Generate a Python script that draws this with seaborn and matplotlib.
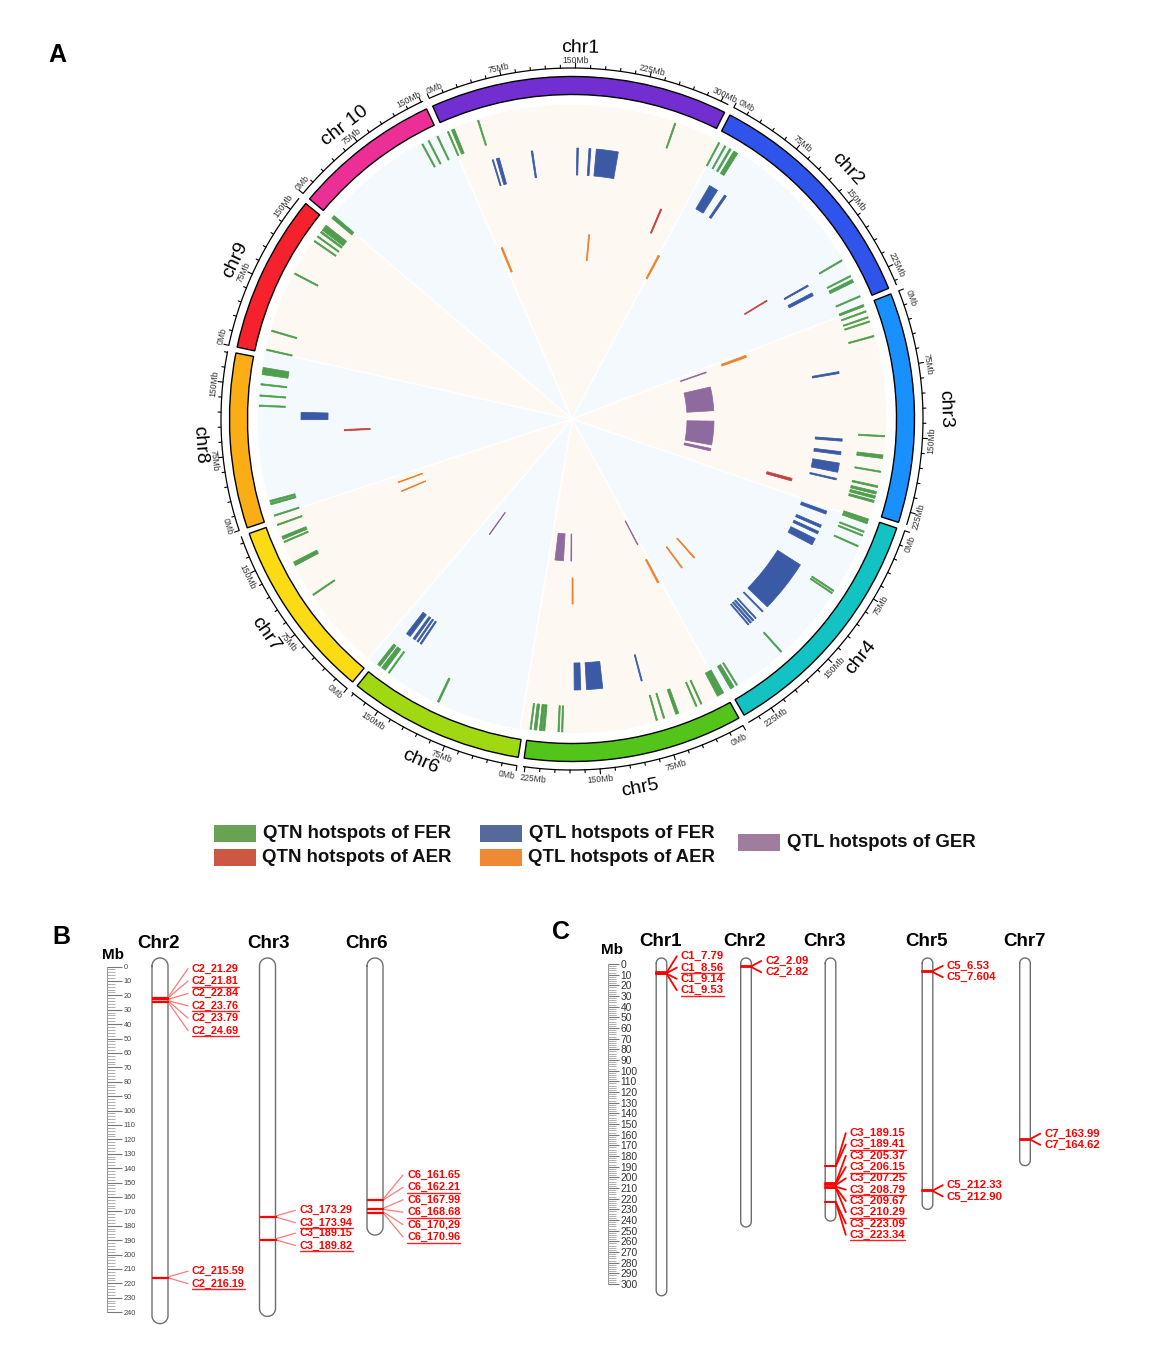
import numpy as np
import pandas as pd
import matplotlib
matplotlib.use("Agg")
import matplotlib.pyplot as plt
from matplotlib.patches import Rectangle
import seaborn as sns

sns.set_theme(style="white")
plt.rcParams['font.family'] = ['Liberation Sans', 'DejaVu Sans']

W, H = 1156, 1365

# circos ring
chr_names = ['chr1', 'chr2', 'chr3', 'chr4', 'chr5', 'chr6', 'chr7', 'chr8', 'chr9', 'chr 10']
chr_len = [308, 245, 238, 252, 227, 182, 187, 181, 164, 152]
chr_colors = ['#722ED1', '#2F54EB', '#1890FF', '#13C2C2', '#52C41A',
              '#A0D911', '#FADB14', '#FAAD14', '#F5222D', '#EB2F96']

# (chromosome, Mb, span in Mb)
qtn_fer = [(1, 4, 1.5), (1, 10, 3.5), (1, 40, 1.5), (1, 264, 1.5),
           (2, 3.6, 1.5), (2, 11.4, 1.5), (2, 18, 2), (2, 25, 5), (2, 196, 1.5), (2, 216, 1.5), (2, 222, 3.5), (2, 241, 1.5),
           (3, 1, 2.5), (3, 8, 1.5), (3, 15, 1.5), (3, 20, 1.5), (3, 37, 1.5), (3, 150, 1.5), (3, 173, 4), (3, 190, 1.5),
           (3, 207, 2), (3, 214, 3), (3, 219, 3), (3, 224, 2.5),
           (4, 2, 3), (4, 5, 2), (4, 15.6, 1.5), (4, 20, 1.5), (4, 33, 1.5), (4, 90, 1.5), (4, 93, 1.5), (4, 180, 1.5),
           (4, 242, 1.5), (4, 248, 4.5),
           (5, 5, 8), (5, 29, 1.5), (5, 35, 1.5), (5, 58, 3.5), (5, 73.6, 1.5), (5, 82, 1.5), (5, 189, 1.5), (5, 193, 1.5),
           (5, 209.7, 2.5), (5, 213, 3), (5, 219, 3), (5, 224.4, 1.5),
           (6, 99.4, 2), (6, 163.5, 1.5), (6, 171, 5), (6, 177.5, 3.5),
           (7, 97.5, 1.5), (7, 138, 4.5), (7, 165, 1.5), (7, 170, 3.5), (7, 185.5, 1.5),
           (8, 3.3, 1.5), (8, 17, 2), (8, 20, 2), (8, 128, 1.5), (8, 139.4, 1.5), (8, 152, 1.5), (8, 165, 4), (8, 169, 4),
           (9, 4, 1.5), (9, 26, 1.5), (9, 95, 1.5), (9, 137.5, 1.5), (9, 143.7, 1.5), (9, 150, 2), (9, 156, 7),
           (10, 1.4, 4), (10, 131, 1.5), (10, 139, 1.5), (10, 150, 1.5)]
qtl_fer = [(1, 42.7, 1.5), (1, 49.5, 4), (1, 94.6, 2), (1, 153.8, 2), (1, 169.7, 2.5), (1, 192.3, 28.6),
           (2, 24.7, 12), (2, 43, 3), (2, 202, 2), (2, 214.6, 4),
           (3, 70.5, 2.5), (3, 158, 3), (3, 175, 4), (3, 194, 12), (3, 209, 2),
           (4, 10, 4), (4, 29, 3.5), (4, 38, 3.5), (4, 51, 9), (4, 120, 69), (4, 163, 1.5),
           (4, 175.5, 1.5), (4, 180, 2), (4, 184, 2), (4, 188, 1.5),
           (5, 87, 1.5), (5, 148.7, 21), (5, 170.9, 8.5),
           (6, 152, 2), (6, 157, 2), (6, 162.5, 3), (6, 171.6, 6),
           (8, 117, 9.5)]
qtn_aer = [(1, 287, 2), (2, 191, 1.5), (3, 225, 4), (8, 96, 2)]
qtl_aer = [(1, 10.4, 3), (1, 179, 2), (2, 3.4, 3), (3, 10, 4), (4, 183.5, 2), (4, 213.4, 2),
           (5, 8.3, 3), (5, 176.8, 2), (7, 166, 1.5), (7, 184, 1.5)]
qtl_ger = [(3, 13.7, 2), (3, 80.7, 59), (3, 165.6, 59), (3, 207, 6),
           (5, 9.5, 1.5), (5, 179.8, 2), (5, 209.6, 21),
           (6, 162, 1.5)]

# hotspot labels of the two ideogram panels, one list per cluster
b_chroms = ['Chr2', 'Chr3', 'Chr6']
b_lengths = [248, 243, 186.5]
b_groups = [[['C2_21.29', 'C2_21.81', 'C2_22.84', 'C2_23.76', 'C2_23.79', 'C2_24.69'], ['C2_215.59', 'C2_216.19']],
            [['C3_173.29', 'C3_173.94'], ['C3_189.15', 'C3_189.82']],
            [['C6_161.65', 'C6_162.21', 'C6_167.99', 'C6_168.68', 'C6_170,29', 'C6_170.96']]]
c_chroms = ['Chr1', 'Chr2', 'Chr3', 'Chr5', 'Chr7']
c_lengths = [311, 246.5, 241, 230, 189]
c_groups = [[['C1_7.79', 'C1_8.56', 'C1_9.14', 'C1_9.53']],
            [['C2_2.09', 'C2_2.82']],
            [['C3_189.15', 'C3_189.41', 'C3_205.37', 'C3_206.15', 'C3_207.25', 'C3_208.79',
              'C3_209.67', 'C3_210.29', 'C3_223.09', 'C3_223.34']],
            [['C5_6.53', 'C5_7.604'], ['C5_212.33', 'C5_212.90']],
            [['C7_163.99', 'C7_164.62']]]
c_underline = [True, False, True, False, False]

DEG_MB = 0.1638
GAP = 1.0
starts = []
a = -24.0
for n in chr_len:
    starts.append(a)
    a += n * DEG_MB + GAP


def ang(chrom, mb):
    return np.deg2rad(starts[chrom - 1] + mb * DEG_MB)


def ring_text(ax, theta, r, s, **kw):
    deg = np.rad2deg(theta) % 360
    rot = 180 - deg if 90 < deg < 270 else -deg
    ax.annotate(s, xy=(theta, r), xytext=(0, -1.5), textcoords='offset points', ha='center', va='center',
                rotation=rot, rotation_mode='anchor', annotation_clip=False, **kw)


fig = plt.figure(figsize=(W / 100, H / 100), dpi=100)

# A
R = 400
CX, CY = 572, 419
ax = fig.add_axes([(CX - R) / W, 1 - (CY + R) / H, 2 * R / W, 2 * R / H], projection='polar')
ax.set_theta_zero_location('N')
ax.set_theta_direction(-1)
ax.set_rlim(0, R)
ax.axis('off')

for i in range(10):
    a0 = starts[i] + 0.5
    a1 = (starts[i + 1] + 0.5) if i < 9 else (starts[0] + 360.5)
    ax.bar(np.deg2rad((a0 + a1) / 2), 315, np.deg2rad(a1 - a0), bottom=0,
           color='#FDF8F2' if i % 2 == 0 else '#F3F9FD', edgecolor='white', linewidth=1.0)

tracks = [(qtn_fer, 287, 313, '#4E9E4E'), (qtl_fer, 244, 271, '#3A5AA6'), (qtn_aer, 202, 228, '#C4403F'),
          (qtl_aer, 159, 185, '#EE7F2D'), (qtl_ger, 115, 142, '#8F6A9F')]
for marks, r0, r1, col in tracks:
    df = pd.DataFrame(marks, columns=['chrom', 'mb', 'span'])
    thetas = [ang(c, m) for c, m in zip(df['chrom'], df['mb'])]
    ax.bar(thetas, r1 - r0, df['span'] * np.deg2rad(DEG_MB), bottom=r0, color=col, edgecolor=col, linewidth=0.55)

for i, name in enumerate(chr_names):
    c = i + 1
    L = chr_len[i]
    ax.bar(ang(c, L / 2), 18, L * np.deg2rad(DEG_MB), bottom=324.5, color=chr_colors[i],
           edgecolor='black', linewidth=1.0)
    ax.plot(ang(c, np.linspace(0, L, 80)), [351] * 80, color='black', lw=0.9, solid_capstyle='butt')
    for mb in np.arange(0, L + 1, 15):
        major = mb % 75 == 0
        ax.plot([ang(c, mb)] * 2, [351, 356 if major else 354], color='black', lw=0.8)
        if major:
            # first and last labels are pushed back inside the chromosome span
            shift = 0
            if mb == 0:
                shift = 1.5
            elif L - mb < 8:
                shift = -1.5
            ring_text(ax, ang(c, mb) + np.deg2rad(shift), 360, '%dMb' % mb, fontsize=6.2, color='#333333')
    ring_text(ax, ang(c, L / 2), 373, name, fontsize=14, color='black')

# legend and panel letters, axes in picture pixels
ax_top = fig.add_axes([0, 0, 1, 1], facecolor='none')
ax_top.set_xlim(0, W)
ax_top.set_ylim(H, 0)
ax_top.axis('off')
for s, x, y in [('A', 57, 55), ('B', 61, 937), ('C', 561, 932)]:
    ax_top.text(x, y, s, fontsize=18, fontweight='bold', ha='center', va='center', color='black')
legend_items = [('QTN hotspots of FER', '#68A354', 214, 825, 263), ('QTN hotspots of AER', '#CC5843', 214, 849, 262),
                ('QTL hotspots of FER', '#55699A', 480, 825, 529), ('QTL hotspots of AER', '#EE8A34', 480, 849, 528),
                ('QTL hotspots of GER', '#A07C9E', 738, 834, 787)]
for s, col, x, y, tx in legend_items:
    ax_top.add_patch(Rectangle((x, y), 42, 17, color=col, lw=0))
    ax_top.text(tx, y + 8.5, s, fontsize=13.4, fontweight='bold', ha='left', va='center', color='#111111')


def ideogram(box, zero_y, px_mb, ruler_x, max_tick, chroms, lengths, groups, chr_x, half_w, title_y, title_x,
             underline, step, conn_kw, mark_lw, fontsize, tick_fs, tick_col, major_len, minor_len, elbow):
    left, right, top, bottom = box
    axp = fig.add_axes([left / W, 1 - bottom / H, (right - left) / W, (bottom - top) / H], facecolor='none')
    axp.set_xlim(left, right)
    axp.set_ylim((bottom - zero_y) / px_mb, (top - zero_y) / px_mb)
    axp.axis('off')

    # ruler is a real y axis
    axr = fig.add_axes([(ruler_x - 5) / W, 1 - bottom / H, 5 / W, (bottom - top) / H], facecolor='none')
    axr.set_ylim(axp.get_ylim())
    axr.set_xticks([])
    sns.despine(ax=axr, left=True, right=False, top=True, bottom=True)
    axr.yaxis.tick_right()
    axr.set_yticks(np.arange(0, max_tick + 1, 10))
    axr.set_yticks(np.arange(0, max_tick + 1, 2), minor=True)
    axr.tick_params(axis='y', which='major', right=True, direction='out', length=major_len * 0.72, width=0.8,
                    color='#777777', labelsize=tick_fs, labelcolor=tick_col, pad=1)
    axr.tick_params(axis='y', which='minor', right=True, direction='out', length=minor_len * 0.72, width=0.55,
                    color='#999999')
    axr.spines['right'].set_bounds(0, max_tick)
    axr.spines['right'].set_color('#999999')
    axr.spines['right'].set_linewidth(0.7)

    renderer = fig.canvas.get_renderer()
    rows = []
    for k, (name, length, grp) in enumerate(zip(chroms, lengths, groups)):
        cx = chr_x[k]
        r_mb = half_w / px_mb
        t = np.linspace(0, np.pi, 30)
        y0 = (958 - zero_y) / px_mb
        xs = np.r_[cx - half_w * np.cos(t), cx + half_w * np.cos(t), cx - half_w]
        ys = np.r_[y0 + r_mb - r_mb * np.sin(t), length - r_mb + r_mb * np.sin(t), y0 + r_mb]
        axp.plot(xs, ys, color='#6E6E6E', lw=1.0, zorder=2)
        axp.text(title_x[k], title_y, name, fontsize=13.5, fontweight='bold', ha='center', va='center', color='black')
        for cluster in grp:
            vals = [float(s.split('_')[1].replace(',', '.')) for s in cluster]
            centre = (min(vals) + max(vals)) / 2 if len(vals) > 2 else np.mean(vals)
            n = len(cluster)
            lx = cx + half_w + elbow + 4
            for i, (s, v) in enumerate(zip(cluster, vals)):
                ly = centre + (i - (n - 1) / 2) * step
                mid = len(rows)
                rows.append((mid, cx - half_w, v))
                rows.append((mid, cx + half_w, v))
                axp.plot([cx + half_w, cx + half_w + elbow], [v, ly], zorder=3, **conn_kw)
                txt = axp.text(lx, ly, s, fontsize=fontsize, fontweight='bold', color='#FF0000', ha='left', va='center')
                if underline[k] and i % 2 == 1:
                    wpx = txt.get_window_extent(renderer).width
                    axp.plot([lx, lx + wpx], [ly + 5.6 / px_mb] * 2, color='#FF2020', lw=1.0, zorder=3)
    mark_df = pd.DataFrame(rows, columns=['id', 'x', 'mb'])
    sns.lineplot(data=mark_df, x='x', y='mb', units='id', estimator=None, sort=False, color='#FF0000',
                 lw=mark_lw, ax=axp, legend=False, zorder=4)
    axp.set_xlim(left, right)
    axp.set_ylim(axr.get_ylim())
    axp.axis('off')
    return axp


# B
axb = ideogram((90, 530, 925, 1340), 966.5, 1.44, 107, 240, b_chroms, b_lengths, b_groups,
               [160, 267.5, 375], 8, (943 - 966.5) / 1.44, [158, 269, 366], [True, True, True], 8.6,
               dict(color='#FF7A7A', lw=0.9), 0.9, 7.8, 5.3, '#444444', 15, 8, 20)
axb.text(113, (955 - 966.5) / 1.44, 'Mb', fontsize=11, fontweight='bold', ha='center', va='center', color='black')

# C
axc = ideogram((590, 1130, 925, 1340), 964, 1.0667, 608, 300, c_chroms, c_lengths, c_groups,
               [661.5, 746, 830.5, 927.5, 1025], 5.3, (941 - 964) / 1.0667, [660, 744, 825, 927, 1025], c_underline, 10.6,
               dict(color='#FF0000', lw=1.3), 1.3, 8.2, 7.4, '#333333', 11, 8, 10)
axc.text(612, (950 - 964) / 1.0667, 'Mb', fontsize=11, fontweight='bold', ha='center', va='center', color='black')

fig.savefig('out.png', dpi=100)
